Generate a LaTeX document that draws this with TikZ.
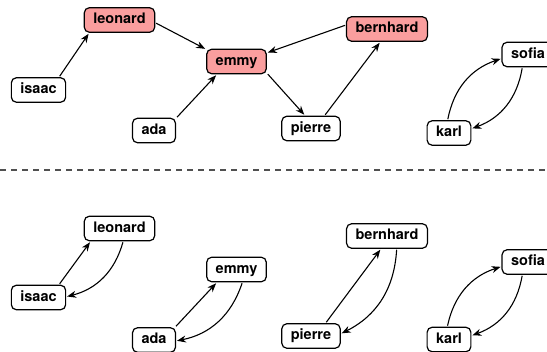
\documentclass[tikz,border=0pt]{standalone}
\usepackage{fontspec}
\setmainfont{TeX Gyre Heros}
\usetikzlibrary{arrows.meta}
\definecolor{hl}{RGB}{250,158,158}
\definecolor{sep}{RGB}{80,80,80}
\begin{document}
\begin{tikzpicture}[x=1pt,y=-1pt,
  nd/.style={draw, rounded corners=5pt, line width=1.2pt, fill=white,
    font=\fontsize{14.5}{16}\selectfont\bfseries, inner xsep=9pt, inner ysep=5.5pt,
    text height=10.5pt, text depth=3pt, outer sep=1.5pt},
  hlnd/.style={nd, fill=hl},
  ed/.style={line width=1.1pt, -{Stealth[length=9pt,width=7pt]}},
  sepline/.style={draw=sep, line width=1.1pt, dash pattern=on 6pt off 5pt}]
\useasboundingbox (0,0) rectangle (547,352);
\clip (0,0) rectangle (547,352);
% top panel
\node[hlnd] (tleonard) at (119.5,20) {leonard};
\node[hlnd] (temmy) at (236.5,61.5) {emmy};
\node[nd] (tisaac) at (38.5,90) {isaac};
\node[nd] (tada) at (154,130.5) {ada};
\node[hlnd] (tbernhard) at (387,29) {bernhard};
\node[nd] (tpierre) at (311,128.5) {pierre};
\node[nd] (tsofia) at (528,54.5) {sofia};
\node[nd] (tkarl) at (449,133) {karl};
\draw[ed] (tisaac.33) -- (tleonard.204);
\draw[ed] (tleonard.-5) -- (temmy.158);
\draw[ed] (tada.30) -- (temmy.214);
\draw[ed] (temmy.-22) -- (tpierre.116);
\draw[ed] (tpierre.44) -- (tbernhard.242);
\draw[ed] (tbernhard.175) -- (temmy.16);
\draw[ed] (tkarl.95) to[bend left] (tsofia.189);
\draw[ed] (tsofia.247) to[bend left] (tkarl.11);
% separator
\coordinate (sepL) at (0,170);
\coordinate (sepR) at (547,170);
\draw[sepline] (sepL) -- (sepR);
% bottom panel
\node[nd] (bleonard) at (119.5,228.5) {leonard};
\node[nd] (bisaac) at (38.5,297.5) {isaac};
\node[nd] (bemmy) at (236.5,269.5) {emmy};
\node[nd] (bada) at (154,340) {ada};
\node[nd] (bbernhard) at (387,236) {bernhard};
\node[nd] (bpierre) at (311,336) {pierre};
\node[nd] (bsofia) at (528,262) {sofia};
\node[nd] (bkarl) at (449,339.5) {karl};
\draw[ed] (bisaac.33) -- (bleonard.205);
\draw[ed] (bleonard.284) to[bend left] (bisaac.2);
\draw[ed] (bada.32) -- (bemmy.214);
\draw[ed] (bemmy.292) to[bend left] (bada.358);
\draw[ed] (bpierre.42) -- (bbernhard.244);
\draw[ed] (bbernhard.305) to[bend left] (bpierre.5);
\draw[ed] (bkarl.96) to[bend left] (bsofia.190);
\draw[ed] (bsofia.247) to[bend left] (bkarl.10);
\end{tikzpicture}
\end{document}
